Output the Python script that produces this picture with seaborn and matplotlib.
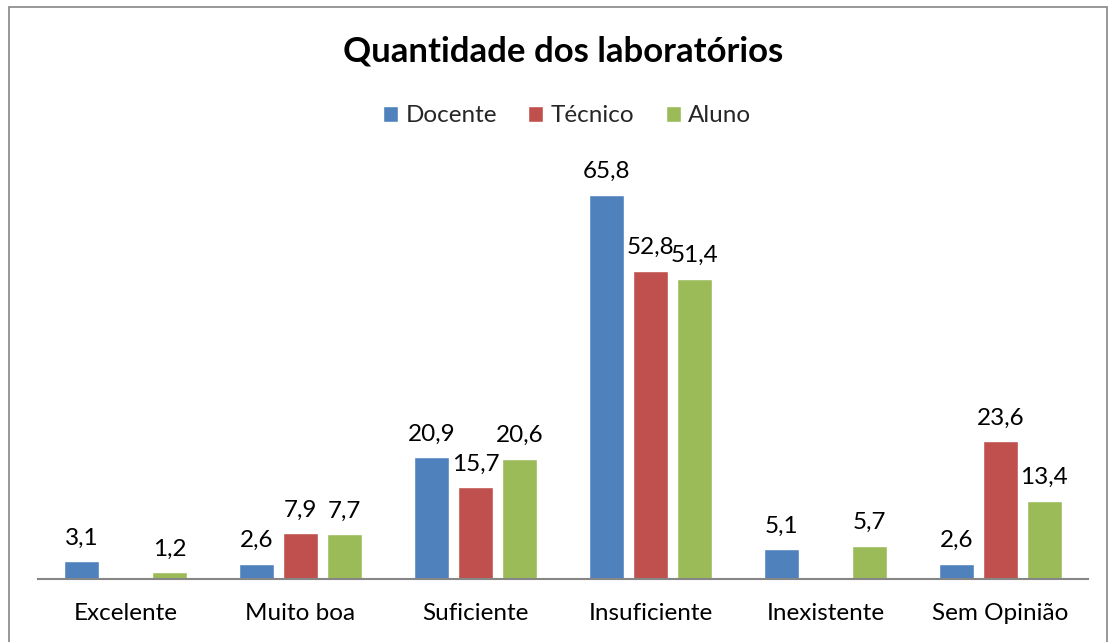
import matplotlib
matplotlib.use("Agg")
import matplotlib.pyplot as plt
import numpy as np
import pandas as pd
import seaborn as sns
from matplotlib.patches import Rectangle

categorias = ["Excelente", "Muito boa", "Suficiente", "Insuficiente", "Inexistente", "Sem Opinião"]
docente = [3.1, 2.6, 20.9, 65.8, 5.1, 2.6]
tecnico = [np.nan, 7.9, 15.7, 52.8, np.nan, 23.6]
aluno = [1.2, 7.7, 20.6, 51.4, 5.7, 13.4]
grupos = ["Docente", "Técnico", "Aluno"]
cores = ["#4F81BD", "#C0504D", "#9BBB59"]

df = pd.DataFrame({
    "categoria": categorias * 3,
    "grupo": [g for g in grupos for _ in categorias],
    "valor": docente + tecnico + aluno,
})

sns.set_theme(style="white")
plt.rcParams["font.family"] = ["Lato", "DejaVu Sans"]

fig = plt.figure(figsize=(11.10, 6.42), dpi=100)
ax = fig.add_axes([0.0342, 0.0981, 0.9459, 0.637])

sns.barplot(data=df, x="categoria", y="valor", hue="grupo", order=categorias,
            hue_order=grupos, palette=cores, width=0.754, gap=0.2,
            saturation=1, ax=ax, legend=True)

for cont in ax.containers:
    ax.bar_label(cont, fmt=lambda v: f"{v:.1f}".replace(".", ","),
                 padding=9, fontsize=17.5, color="black")

ax.set_ylim(0, 70)
ax.set_xlim(-0.5, len(categorias) - 0.5)
ax.set_xlabel("")
ax.set_ylabel("")
ax.set_yticks([])
ax.tick_params(axis="x", length=0, labelsize=17.5, pad=17, colors="black")
for s in ["top", "right", "left"]:
    ax.spines[s].set_visible(False)
ax.spines["bottom"].set_color("#868686")
ax.spines["bottom"].set_linewidth(1.5)

leg = ax.legend(loc="center", ncol=3, frameon=False, fontsize=17.5,
                handlelength=0.62, handleheight=0.62, handletextpad=0.3,
                columnspacing=1.3)
leg.set_bbox_to_anchor((0.511, 1 - 116 / 642), transform=fig.transFigure)

fig.text(0.507, 1 - 52 / 642, "Quantidade dos laboratórios", ha="center",
         va="center", fontsize=25, fontweight="bold", color="black")

fig.patches.append(Rectangle((8.5 / 1110, -0.05), (1107 - 8.5) / 1110, 1.05 - 6.5 / 642,
                             transform=fig.transFigure, fill=False,
                             edgecolor="#868686", linewidth=1.2))

fig.savefig("out.png", dpi=100, facecolor="white")
